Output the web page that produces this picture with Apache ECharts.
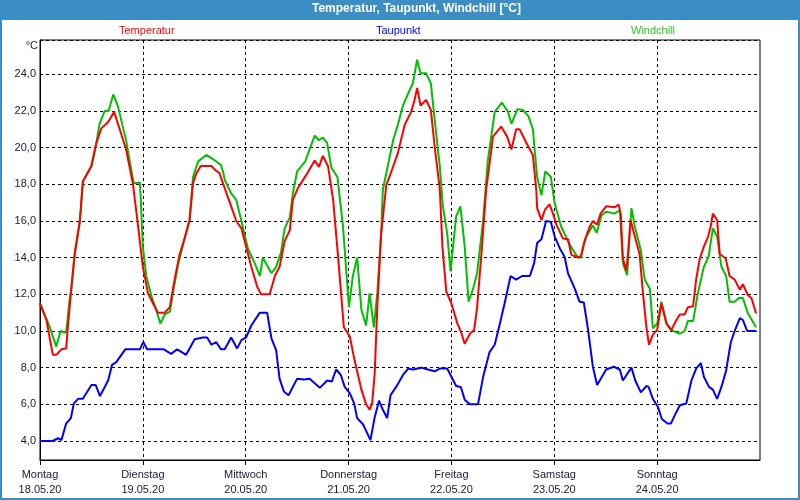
<!DOCTYPE html>
<html>
<head>
<meta charset="utf-8">
<script src="https://cdn.jsdelivr.net/npm/echarts/dist/echarts.min.js"></script>
<style>
html,body{margin:0;padding:0;background:#fff;}
#chart{width:800px;height:500px;}
</style>
</head>
<body>
<div id="chart"></div>
<script>
// Hours since Monday 18.05.20 00:00 and values in °C
const temperatur = [[0,11.5],[1.5,10.6],[3.0,8.7],[3.8,8.7],[5.0,9.0],[6.1,9.05],[6.5,10.2],[7.3,12.3],[8.1,14.2],[9.3,16.0],[10.0,18.15],[12.0,19.0],[13.1,20.2],[14.3,21.05],[15.9,21.4],[17.3,21.95],[18.6,21.0],[20.1,19.9],[21.7,18.0],[22.9,15.7],[24.0,13.5],[25.2,12.05],[26.4,11.5],[27.5,11.0],[29.1,11.0],[30.3,11.3],[31.4,12.8],[32.6,14.2],[33.8,15.1],[34.9,16.05],[35.7,18.05],[36.5,18.6],[37.5,19.0],[40.0,19.0],[40.8,18.8],[41.9,18.6],[42.7,18.05],[44.3,17.0],[45.8,16.0],[47.0,15.6],[48.1,14.6],[49.3,13.5],[50.7,12.4],[51.6,12.0],[53.6,12.0],[54.8,13.0],[55.9,13.5],[57.1,14.9],[58.3,15.5],[59.0,17.15],[60.2,17.8],[62.1,18.5],[64.1,19.3],[65.1,18.95],[66.0,19.55],[67.2,19.0],[68.4,17.15],[69.5,14.2],[70.9,10.2],[72.3,9.7],[73.4,8.4],[75.0,6.8],[76.1,6.0],[76.9,5.7],[77.5,6.05],[78.1,7.7],[78.7,11.3],[79.6,15.3],[80.8,17.95],[82.0,18.7],[83.5,19.7],[85.1,21.25],[86.6,21.95],[87.4,22.6],[88.0,23.25],[88.8,22.3],[90.1,22.6],[91.2,22.05],[92.1,20.05],[93.3,17.7],[93.9,14.6],[94.8,12.15],[96.0,11.5],[97.4,10.4],[98.3,9.9],[99.1,9.3],[100.3,9.85],[101.3,10.05],[102.0,11.3],[103.0,14.2],[104.1,17.7],[105.7,20.6],[107.6,21.15],[109.0,20.6],[110.0,19.9],[111.1,21.0],[111.9,21.0],[113.5,20.25],[115.0,19.6],[115.8,17.7],[116.0,16.7],[117.0,16.05],[117.8,16.6],[118.9,16.9],[119.7,16.4],[120.5,15.8],[122.0,15.05],[123.2,15.0],[124.0,14.15],[125.1,14.05],[126.2,14.05],[127.1,14.95],[128.3,15.7],[129.0,16.0],[130.0,15.8],[130.8,16.4],[132.1,16.8],[134.1,16.75],[135.0,16.9],[135.5,16.4],[136.0,13.95],[136.8,13.3],[137.2,14.2],[137.8,16.05],[138.8,15.15],[139.9,14.2],[140.7,12.05],[141.5,10.2],[142.1,9.25],[143.0,9.8],[144.0,10.05],[145.0,11.5],[146.2,10.4],[147.3,10.05],[148.5,10.6],[149.3,10.9],[150.4,10.9],[151.2,11.3],[152.4,11.35],[153.1,12.8],[153.9,13.9],[154.9,14.6],[155.9,15.15],[156.5,15.7],[157.0,16.4],[158.0,16.05],[158.6,14.2],[160.0,13.95],[160.9,13.0],[162.1,12.8],[163.3,12.25],[164.0,12.55],[165.2,11.95],[166.0,11.8],[167.1,10.95]];

const taupunkt = [[0,4.0],[3.0,4.0],[4.2,4.15],[5.0,4.05],[6.1,4.95],[7.2,5.25],[7.9,6.05],[8.9,6.3],[10.0,6.3],[12.0,7.05],[13.0,7.05],[14.0,6.45],[15.9,7.3],[16.8,8.15],[17.8,8.3],[19.9,9.0],[23.3,9.0],[24.1,9.4],[25.0,9.0],[28.9,9.0],[30.6,8.75],[32.0,9.0],[34.1,8.7],[36.1,9.55],[38.0,9.65],[39.0,9.65],[40.0,9.25],[41.1,9.4],[42.2,9.0],[43.1,9.0],[44.6,9.65],[46.0,9.05],[47.0,9.5],[48.1,9.65],[49.3,10.3],[51.3,11.0],[53.0,11.0],[54.0,9.6],[55.1,8.95],[55.9,7.4],[56.9,6.7],[58.0,6.5],[60.0,7.4],[61.6,7.35],[62.9,7.4],[65.3,6.9],[67.0,7.3],[68.1,7.25],[69.1,7.9],[70.2,7.6],[71.1,6.95],[72.3,6.6],[73.3,6.05],[74.0,5.25],[75.4,4.9],[76.4,4.4],[77.1,4.05],[78.1,5.3],[79.1,6.2],[80.0,5.7],[81.0,5.25],[81.8,6.5],[83.1,6.95],[84.7,7.6],[85.9,7.95],[87.0,7.9],[89.0,8.0],[90.5,7.9],[92.1,7.8],[93.3,7.95],[95.0,7.95],[96.0,7.5],[97.1,7.0],[98.2,6.95],[99.1,6.25],[100.3,6.0],[102.2,6.0],[103.4,7.5],[104.9,8.85],[106.1,9.25],[107.3,10.4],[108.4,11.5],[109.8,13.0],[111.1,12.8],[112.5,13.0],[114.3,13.0],[115.3,13.7],[116.0,14.8],[117.0,15.0],[118.1,16.0],[119.2,15.95],[120.1,15.15],[121.3,14.5],[122.4,14.05],[123.2,13.15],[124.8,12.3],[125.9,11.6],[126.9,11.55],[127.9,10.05],[129.0,8.05],[130.0,7.05],[132.1,7.9],[133.9,8.05],[135.3,7.9],[136.0,7.3],[138.0,8.0],[138.9,7.3],[140.2,6.65],[141.5,7.0],[142.0,6.95],[143.0,6.3],[144.2,5.85],[145.1,5.2],[146.4,4.95],[147.2,4.95],[148.1,5.4],[149.3,5.95],[150.8,6.05],[152.0,7.3],[153.1,7.95],[154.2,8.25],[154.9,7.5],[156.1,6.95],[157.0,6.8],[158.0,6.3],[159.0,6.95],[160.1,7.85],[161.2,9.4],[162.1,10.0],[163.3,10.7],[164.0,10.6],[165.0,10.0],[167.1,10.0]];

const windchill = [[0,11.5],[2.3,10.2],[3.8,9.15],[4.8,10.0],[6.1,9.9],[6.9,11.7],[7.3,12.3],[8.1,14.2],[9.3,16.0],[10.0,18.15],[12.0,19.0],[13.1,20.2],[13.9,21.3],[15.1,22.0],[16.0,22.0],[17.1,22.9],[18.2,22.25],[19.4,21.05],[20.1,20.4],[20.9,19.3],[21.9,18.05],[23.3,18.1],[23.5,17.3],[24.0,14.6],[24.8,13.0],[26.0,11.9],[27.1,11.15],[28.1,10.4],[29.1,10.9],[30.3,11.05],[31.0,12.05],[32.2,13.6],[33.8,15.1],[34.9,16.05],[35.7,18.4],[36.9,19.25],[38.8,19.6],[40.8,19.3],[42.2,19.05],[42.7,18.7],[43.1,18.25],[44.6,17.5],[45.8,17.15],[47.0,16.0],[48.5,14.5],[50.1,13.7],[51.3,13.0],[52.0,14.0],[54.0,13.15],[55.1,13.5],[56.2,14.25],[57.1,15.6],[58.3,16.2],[59.0,17.5],[60.0,18.7],[61.9,19.25],[62.9,19.9],[64.1,20.65],[65.1,20.4],[66.0,20.55],[67.0,20.25],[68.0,18.9],[69.4,18.4],[70.7,15.7],[71.5,13.15],[72.1,11.3],[73.0,13.0],[74.0,14.0],[75.0,11.15],[76.1,10.3],[76.9,12.05],[77.9,10.2],[78.7,12.05],[79.6,15.3],[80.0,17.7],[81.2,19.05],[82.4,20.4],[83.5,21.25],[84.7,22.3],[85.9,22.95],[87.0,23.5],[88.0,24.8],[88.8,24.05],[90.1,24.05],[91.2,23.5],[92.1,21.5],[93.3,18.95],[94.0,16.8],[95.0,15.35],[95.8,13.25],[97.1,16.25],[98.1,16.8],[99.1,14.6],[100.0,11.6],[101.0,12.25],[102.0,13.15],[103.4,16.05],[104.5,19.3],[106.1,21.95],[107.8,22.45],[109.2,21.95],[110.0,21.3],[111.4,22.1],[112.7,22.05],[114.0,21.7],[115.0,21.0],[116.0,18.4],[117.0,17.4],[117.9,18.7],[119.2,18.4],[120.1,16.95],[121.6,15.7],[123.2,14.9],[124.4,14.4],[125.5,14.0],[126.2,14.0],[126.8,14.6],[127.5,15.15],[129.0,15.75],[129.9,15.35],[131.0,16.3],[132.1,16.5],[134.1,16.4],[135.3,16.6],[136.0,13.7],[137.0,13.05],[137.6,15.35],[138.0,16.7],[138.8,15.7],[140.2,14.4],[141.1,12.8],[142.3,12.3],[143.0,10.15],[144.0,10.4],[145.0,11.6],[146.2,10.4],[147.3,10.05],[149.3,9.85],[150.4,10.0],[151.2,10.55],[152.4,10.55],[153.5,12.05],[154.9,13.5],[156.0,14.05],[157.0,15.6],[158.0,15.15],[159.0,13.5],[160.1,13.0],[160.9,11.6],[162.1,11.6],[163.1,11.8],[164.0,11.8],[165.2,10.95],[167.1,10.2]];

const dayNames = ['Montag','Dienstag','Mittwoch','Donnerstag','Freitag','Samstag','Sonntag'];
const dayDates = ['18.05.20','19.05.20','20.05.20','21.05.20','22.05.20','23.05.20','24.05.20'];
const dayTicks = [0, 24, 48, 72, 96, 120, 144];
const seriesNames = ['Temperatur','Taupunkt','Windchill'];
const titleText = 'Temperatur, Taupunkt, Windchill [°C]';

const FONT = '"Liberation Sans", Arial, sans-serif';
const LBL = '#1a1a3a';
const colors = ['#ff0000','#0000ff','#00c000'];
const legendColors = ['#ff0000','#0000ff','#22cc22'];
const legendLeft = [114, 371, 626];

const chart = echarts.init(document.getElementById('chart'), null, {renderer:'canvas'});
const dataSets = [temperatur, taupunkt, windchill];

chart.setOption({
  animation: false,
  backgroundColor: '#ffffff',
  textStyle: {fontFamily: FONT},
  title: {
    text: titleText, left: 312, top: 3, padding: 0,
    textStyle: {color:'#ffffff', fontSize: 12, fontWeight:'bold', fontFamily: FONT}
  },
  legend: seriesNames.map((n, i) => ({
    data: [{name: n, icon: 'none'}],
    left: legendLeft[i], top: 25, padding: 0,
    itemWidth: 0, itemHeight: 0, selectedMode: false,
    textStyle: {color: legendColors[i], fontSize: 11, fontFamily: FONT}
  })),
  graphic: [
    {type:'rect', z: -10, silent: true, shape:{x:0, y:0, width:800, height:20}, style:{fill:'#3b8dc3'}},
    {type:'rect', z: 100, silent: true, shape:{x:1, y:1, width:798, height:498}, style:{fill:null, stroke:'#3b8dc3', lineWidth:2}},
    {type:'text', silent: true, x: 38, y: 46, style:{text:'°C', fill: LBL, font: '11px ' + FONT, align:'right', verticalAlign:'middle'}}
  ],
  grid: {left: 40, right: 40, top: 40, bottom: 40, show: true, borderColor:'#000', borderWidth: 1, backgroundColor:'#ffffff'},
  xAxis: {
    type: 'value', min: 0, max: 168, interval: 24,
    axisLine: {show: true, lineStyle: {color:'#000', width: 1}},
    axisTick: {show: true, length: 5, customValues: dayTicks, lineStyle: {color:'#000'}},
    splitLine: {show: true, lineStyle: {color:'#000', type:[3,3], width: 1}},
    axisLabel: {
      margin: 7, color: LBL, fontSize: 11, fontFamily: FONT, lineHeight: 15, showMaxLabel: false,
      formatter: v => { const i = Math.round(v/24); return i < 7 ? dayNames[i] + '\n' + dayDates[i] : ''; }
    }
  },
  yAxis: {
    type: 'value', min: 2.964, max: 25.87, splitNumber: 11,
    axisLine: {show: true, lineStyle: {color:'#000', width: 1}},
    axisTick: {show: false},
    splitLine: {show: true, lineStyle: {color:'#000', type:[3,3], width: 1}},
    axisLabel: {
      margin: 4, color: LBL, fontSize: 11, fontFamily: FONT,
      formatter: v => (Math.abs(v/2 - Math.round(v/2)) < 0.01) ? v.toFixed(1).replace('.', ',') : ''
    }
  },
  series: seriesNames.map((n, i) => ({
    name: n, type: 'line', data: dataSets[i], showSymbol: false, symbol: 'none',
    lineStyle: {color: colors[i], width: 2}, itemStyle: {color: colors[i]},
    z: i === 1 ? 3 : (i === 0 ? 4 : 2)
  }))
});
</script>
</body>
</html>
